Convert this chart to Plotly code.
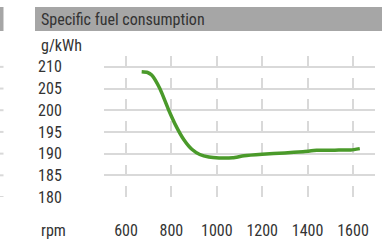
import plotly.graph_objects as go

# Data
rpm = [669, 695, 713, 749, 786, 820, 855, 890, 925, 965, 1010, 1070, 1120, 1200, 1300, 1380, 1440, 1520, 1590, 1630]
sfc = [208.85, 208.7, 208.1, 205.0, 200.3, 196.4, 193.2, 191.0, 189.8, 189.2, 189.0, 189.05, 189.5, 189.85, 190.15, 190.45, 190.75, 190.8, 190.85, 191.15]

x_ticks = [600, 800, 1000, 1200, 1400, 1600]
y_ticks = [180, 185, 190, 195, 200, 205, 210]
title_text = "Specific fuel consumption"
y_unit = "g/kWh"
x_unit = "rpm"

FONT = "Roboto Condensed, Liberation Sans Narrow, Roboto, sans-serif"
FS = 16
TXT = "#333333"
GRID = "#d9d9d9"
GREEN = "#4a9a2a"

W, H = 382, 240
L, R, T, B = 104, 7, 56, 43
pw, ph = W - L - R, H - T - B

def px_x(p):
    return (p - L) / pw

def px_y(p):
    return (H - B - p) / ph

fig = go.Figure()
fig.add_trace(go.Scatter(
    x=rpm, y=sfc, mode="lines",
    line=dict(color=GREEN, width=3.5, shape="spline", smoothing=0.6),
    hoverinfo="skip", showlegend=False,
))

shapes = []
# title bar
shapes.append(dict(type="rect", xref="paper", yref="paper",
                   x0=px_x(35), x1=px_x(382), y0=px_y(31), y1=px_y(7),
                   fillcolor="#a6a6a6", line=dict(width=0), layer="below"))
# neighbouring panel fragment at left edge
shapes.append(dict(type="rect", xref="paper", yref="paper",
                   x0=px_x(0), x1=px_x(3.5), y0=px_y(31), y1=px_y(7),
                   fillcolor="#a6a6a6", line=dict(width=0), layer="below"))
for v in y_ticks:
    shapes.append(dict(type="line", xref="paper", yref="y",
                       x0=px_x(0), x1=px_x(3.5), y0=v, y1=v,
                       line=dict(color=GRID, width=2), layer="below"))

annotations = [
    dict(text=title_text, xref="paper", yref="paper", x=px_x(39), y=px_y(19.5),
         xanchor="left", yanchor="middle", showarrow=False,
         font=dict(family=FONT, size=FS, color=TXT)),
    dict(text=y_unit, xref="paper", yref="paper", x=px_x(39), y=px_y(46),
         xanchor="left", yanchor="middle", showarrow=False,
         font=dict(family=FONT, size=FS, color=TXT)),
    dict(text=x_unit, xref="paper", yref="paper", x=px_x(39), y=px_y(230),
         xanchor="left", yanchor="middle", showarrow=False,
         font=dict(family=FONT, size=FS, color=TXT)),
]

fig.update_layout(
    width=W, height=H,
    margin=dict(l=L, r=R, t=T, b=B, pad=0, autoexpand=False),
    paper_bgcolor="white", plot_bgcolor="white",
    shapes=shapes, annotations=annotations,
    xaxis=dict(range=[503, 1697], tickvals=x_ticks, ticktext=[str(v) for v in x_ticks],
               showgrid=True, gridcolor=GRID, gridwidth=2, griddash="10.5px,11.2px",
               zeroline=False, showline=False, ticks="outside", ticklen=19,
               tickcolor="rgba(0,0,0,0)", tickfont=dict(family=FONT, size=FS, color=TXT),
               automargin=False, fixedrange=True),
    yaxis=dict(range=[180, 212.5], tickvals=y_ticks, ticktext=[str(v) for v in y_ticks],
               showgrid=True, gridcolor=GRID, gridwidth=2,
               zeroline=False, showline=False, ticks="outside", ticklen=38,
               tickcolor="rgba(0,0,0,0)", tickfont=dict(family=FONT, size=FS, color=TXT),
               automargin=False, fixedrange=True),
)

fig.write_html("out.html", config={"displayModeBar": False},
               post_script="document.body.style.margin='0';document.body.style.padding='0';")
